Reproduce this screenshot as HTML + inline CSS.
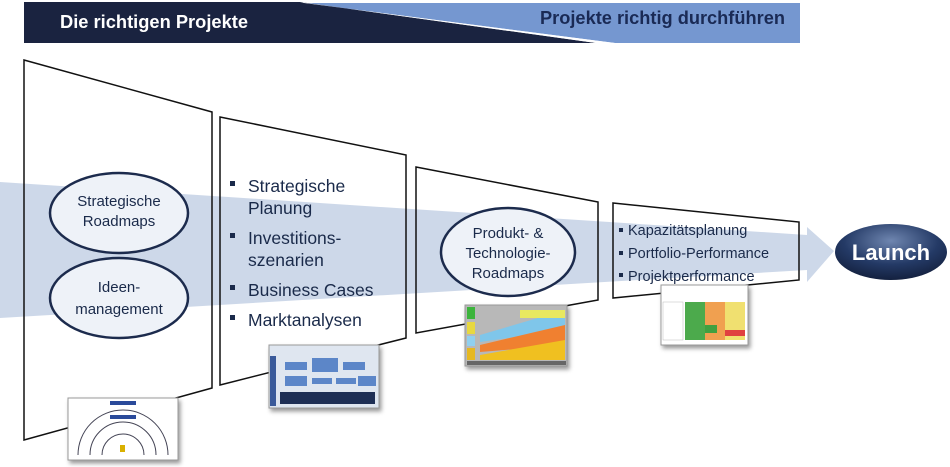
<!DOCTYPE html>
<html><head><meta charset="utf-8"><style>
html,body{margin:0;padding:0;background:#fff;width:950px;height:467px;overflow:hidden}
svg{display:block;font-family:"Liberation Sans",Arial,sans-serif}
</style></head><body>
<svg width="950" height="467" viewBox="0 0 950 467" xmlns="http://www.w3.org/2000/svg">
<defs>
<radialGradient id="lg" cx="0.5" cy="0.3" r="0.7">
<stop offset="0" stop-color="#6f86b0"/><stop offset="0.6" stop-color="#243a66"/><stop offset="1" stop-color="#14213f"/></radialGradient>
<filter id="sh" x="-10%" y="-10%" width="130%" height="130%"><feDropShadow dx="2" dy="3" stdDeviation="2" flood-color="#000" flood-opacity="0.4"/></filter>
</defs>
<polygon points="304,3 800,3 800,43 615,43" fill="#7597d0"/>
<polygon points="24,2 300,2 596,43 24,43" fill="#1a2340"/>
<polygon points="300,2 304,3 615,43 596,43" fill="#fff"/>
<text x="60" y="28" font-size="18" font-weight="bold" fill="#fff" textLength="188" lengthAdjust="spacingAndGlyphs">Die richtigen Projekte</text>
<text x="540" y="24" font-size="18" font-weight="bold" fill="#1a2a55" textLength="245" lengthAdjust="spacingAndGlyphs">Projekte richtig durchführen</text>
<g fill="#fff">
<polygon points="24,60 212,112 212,388 24,440"/>
<polygon points="220,117 406,155 406,338 220,385"/>
<polygon points="416,167 598,202 598,300 416,333"/>
<polygon points="613,203 799,222 799,280 613,298"/>
</g>
<polygon points="0,182 807,235 807,227 834,251 807,282 807,270 0,318" fill="#bccbe2" opacity="0.75"/>
<g fill="none" stroke="#111" stroke-width="1.5">
<polygon points="24,60 212,112 212,388 24,440"/>
<polygon points="220,117 406,155 406,338 220,385"/>
<polygon points="416,167 598,202 598,300 416,333"/>
<polygon points="613,203 799,222 799,280 613,298"/>
</g>
<g fill="#eef2f8" stroke="#1c2b4d" stroke-width="2.5">
<ellipse cx="119" cy="213" rx="69" ry="40"/>
<ellipse cx="119" cy="298" rx="69" ry="40"/>
<ellipse cx="508" cy="252" rx="67" ry="44"/>
</g>
<g font-size="15" fill="#1a2a4a" text-anchor="middle">
<text x="119" y="206">Strategische</text><text x="119" y="226">Roadmaps</text>
<text x="119" y="292">Ideen-</text><text x="119" y="314">management</text>
<text x="508" y="238">Produkt- &amp;</text><text x="508" y="258">Technologie-</text><text x="508" y="278">Roadmaps</text>
</g>
<g font-size="17.5" fill="#1a2a4a">
<rect x="230" y="181" width="5" height="5"/><text x="248" y="192">Strategische</text><text x="248" y="214">Planung</text>
<rect x="230" y="233" width="5" height="5"/><text x="248" y="244">Investitions-</text><text x="248" y="266">szenarien</text>
<rect x="230" y="285" width="5" height="5"/><text x="248" y="296">Business Cases</text>
<rect x="230" y="315" width="5" height="5"/><text x="248" y="326">Marktanalysen</text>
</g>
<g font-size="14.5" fill="#1a2a4a">
<rect x="619" y="228" width="4" height="4"/><text x="628" y="235">Kapazitätsplanung</text>
<rect x="619" y="251" width="4" height="4"/><text x="628" y="258">Portfolio-Performance</text>
<rect x="619" y="273" width="4" height="4"/><text x="628" y="281">Projektperformance</text>
</g>
<ellipse cx="891" cy="252" rx="56" ry="28" fill="url(#lg)"/>
<text x="891" y="260" font-size="22" font-weight="bold" fill="#fff" text-anchor="middle">Launch</text>
<g filter="url(#sh)">
<rect x="68" y="398" width="110" height="62" fill="#fff" stroke="#999"/>
<rect x="269" y="345" width="110" height="63" fill="#dfe6f0" stroke="#999"/>
<rect x="465" y="305" width="102" height="61" fill="#b8b8b8" stroke="#999"/>
<rect x="661" y="285" width="87" height="60" fill="#fff" stroke="#999"/>
</g>
<g fill="none" stroke="#445" stroke-width="1">
<path d="M78,455 A45,45 0 0 1 168,455"/><path d="M90,455 A33,33 0 0 1 156,455"/><path d="M102,455 A21,21 0 0 1 144,455"/>
</g>
<rect x="110" y="401" width="26" height="4" fill="#2a4a9a"/>
<rect x="110" y="415" width="26" height="4" fill="#2a4a9a"/>
<rect x="120" y="445" width="5" height="7" fill="#d9b000"/>
<g fill="#5c86c8">
<rect x="285" y="362" width="22" height="8"/><rect x="312" y="358" width="26" height="14"/><rect x="343" y="362" width="22" height="8"/>
<rect x="285" y="376" width="22" height="10"/><rect x="312" y="378" width="20" height="6"/><rect x="336" y="378" width="20" height="6"/><rect x="358" y="376" width="18" height="10"/>
</g>
<g fill="#1e2f55"><rect x="280" y="392" width="95" height="12"/></g>
<rect x="270" y="356" width="6" height="50" fill="#3a5a9a"/>
<g>
<rect x="467" y="307" width="8" height="12" fill="#3cb43c"/><rect x="467" y="322" width="8" height="12" fill="#e8d840"/>
<rect x="467" y="336" width="8" height="10" fill="#8fd0f0"/><rect x="467" y="348" width="8" height="12" fill="#e6b820"/>
<polygon points="480,335 565,310 565,330 480,342" fill="#7fc6ea"/>
<polygon points="480,345 565,325 565,345 480,352" fill="#f08030"/>
<polygon points="480,355 565,340 565,360 480,360" fill="#f0c020"/>
<rect x="520" y="310" width="45" height="8" fill="#e8e860"/>
<rect x="467" y="361" width="99" height="4" fill="#666"/>
</g>
<g>
<rect x="685" y="302" width="20" height="38" fill="#4caa4c"/>
<rect x="705" y="302" width="20" height="38" fill="#f0a050"/>
<rect x="725" y="302" width="20" height="38" fill="#f0e070"/>
<rect x="705" y="325" width="12" height="8" fill="#40a040"/>
<rect x="725" y="330" width="20" height="6" fill="#e04040"/>
<rect x="663" y="302" width="20" height="38" fill="#fff" stroke="#bbb" stroke-width="0.5"/>
</g>
</svg>
</body></html>
